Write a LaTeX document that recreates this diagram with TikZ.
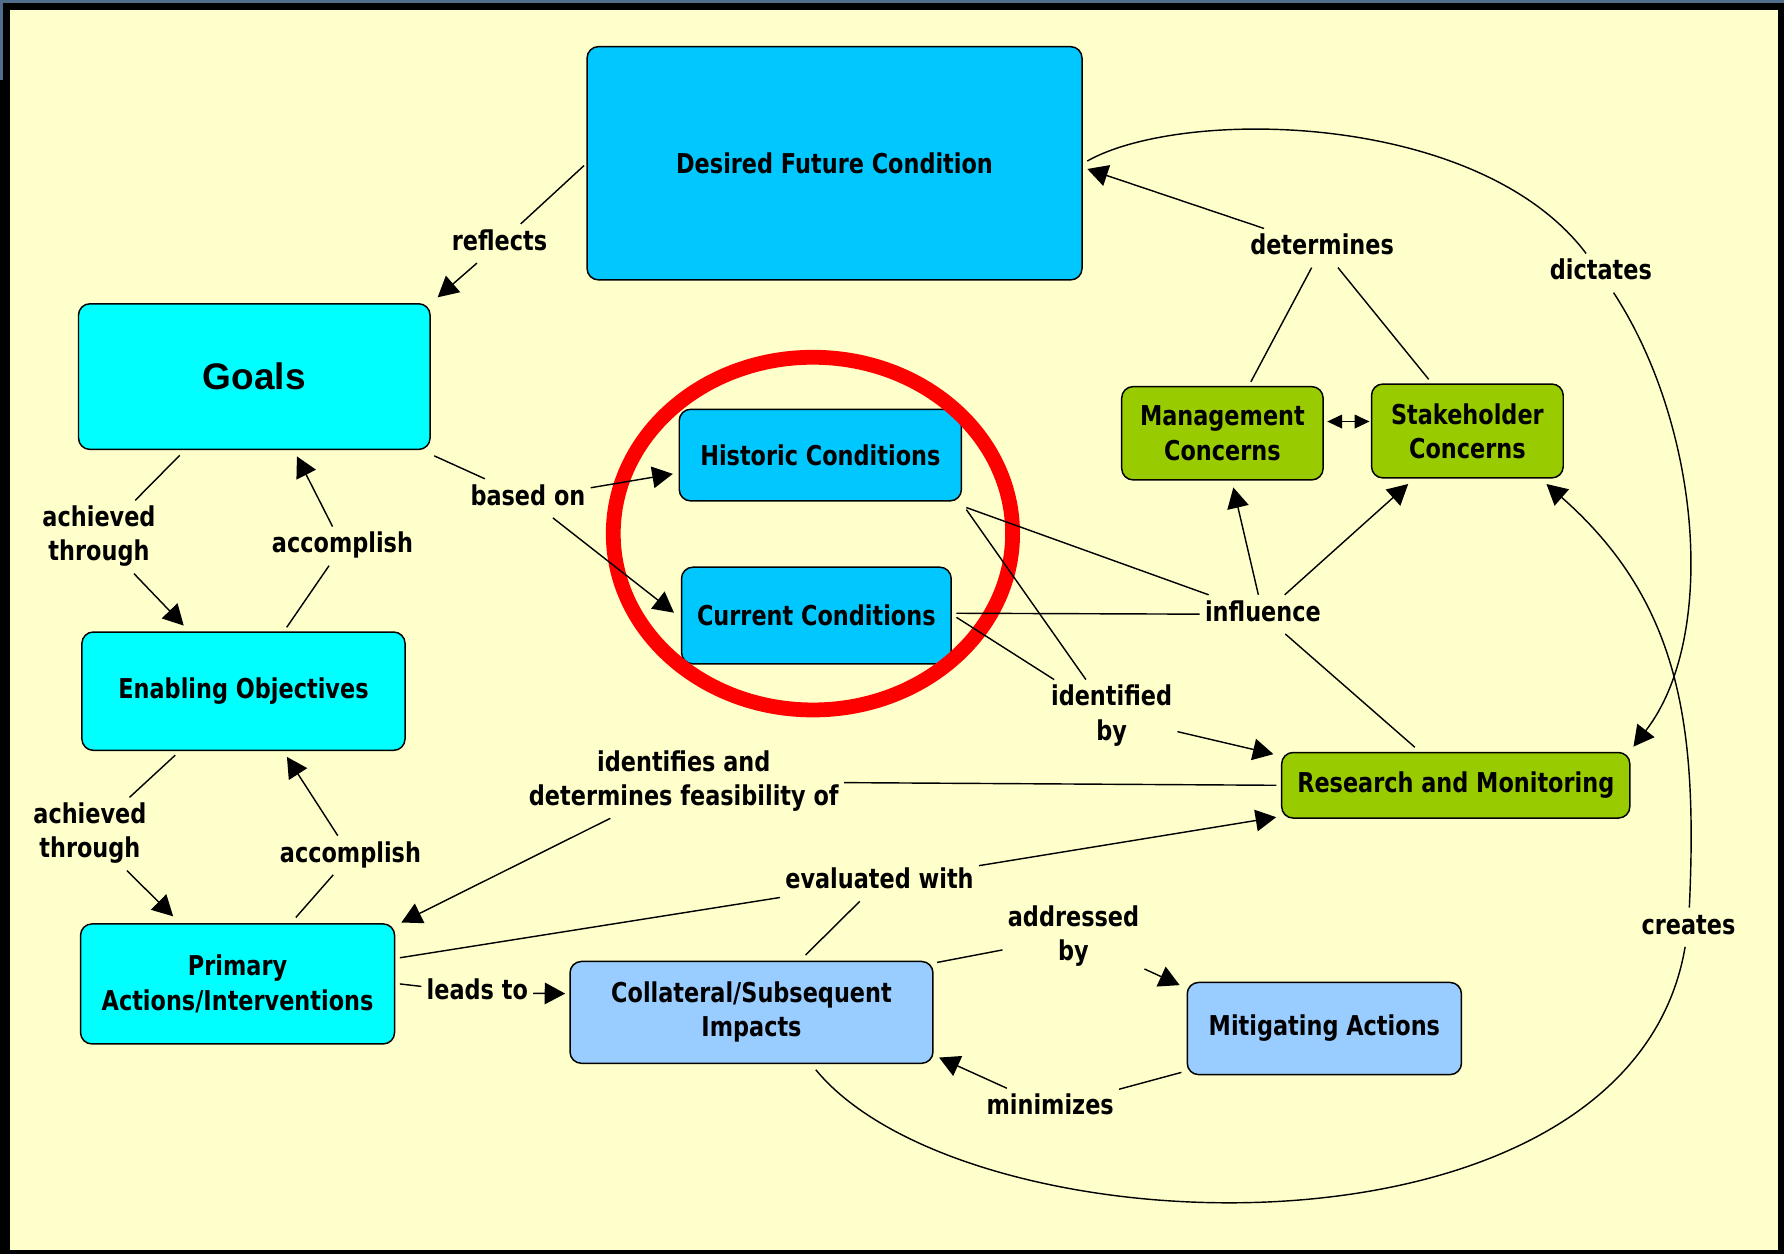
\documentclass[tikz,border=0pt]{standalone}
\usepackage{fontspec}
\usetikzlibrary{arrows.meta,calc}
\newfontfamily\cmfam{DejaVu Sans}[FakeStretch=0.82]
\newfontfamily\goalsfam{Liberation Sans}
\newcommand\cmf{\cmfam\bfseries\fontsize{24pt}{30pt}\selectfont}
\definecolor{bgy}{HTML}{FFFFCC}
\definecolor{topblue}{HTML}{506E8C}
\definecolor{skyb}{HTML}{00C8FF}
\definecolor{cyanb}{HTML}{00FFFF}
\definecolor{greenb}{HTML}{99CC00}
\definecolor{lblue}{HTML}{99CCFF}
\definecolor{ringred}{HTML}{FF0000}
\tikzset{
  box/.style={draw=black, line width=1.3pt, rounded corners=10pt, inner sep=0pt, align=center, font=\cmf},
  lbl/.style={font=\cmf, inner xsep=4.5pt, inner ysep=2pt, align=center},
  con/.style={line width=1.25pt, draw=black},
  arr/.style={con, -{Triangle[length=18pt,width=19pt]}},
  smalltip/.style={con, {Triangle[length=13pt,width=12pt]}-{Triangle[length=13pt,width=12pt]}},
}
\begin{document}
\begin{tikzpicture}[x=1pt,y=-1pt]
\useasboundingbox (0,0) rectangle (1568,1102);
\fill[black] (0,0) rectangle (1568,1102);
\fill[topblue] (0,0) rectangle (1568,2.5);
\fill[topblue] (0,0) rectangle (2.5,70);
\fill[bgy] (8.8,8.8) rectangle (1562.6,1098.6);

% concept boxes
\node[box, fill=skyb, minimum width=435pt, minimum height=205pt] (dfc) at (733.5,143.5) {Desired Future Condition};
\node[box, fill=cyanb, minimum width=309pt, minimum height=128pt, font=\goalsfam\bfseries\fontsize{32.5pt}{38pt}\selectfont] (goals) at (223.5,331) {Goals};
\node[box, fill=skyb, minimum width=248pt, minimum height=80.5pt] (hist) at (721,400) {Historic Conditions};
\node[box, fill=skyb, minimum width=237pt, minimum height=85pt] (curr) at (717.5,541) {Current Conditions};
\node[box, fill=cyanb, minimum width=284pt, minimum height=104pt] (eo) at (214,607.5) {Enabling Objectives};
\node[box, fill=cyanb, minimum width=276pt, minimum height=105.5pt] (prim) at (208.8,864.8) {Primary\\Actions/Interventions};
\node[box, fill=greenb, minimum width=177pt, minimum height=82pt] (mgmt) at (1074.4,380.8) {Management\\Concerns};
\node[box, fill=greenb, minimum width=168.5pt, minimum height=82.5pt] (stake) at (1289.7,378.8) {Stakeholder\\Concerns};
\node[box, fill=greenb, minimum width=306pt, minimum height=57.6pt] (rm) at (1279.5,690.2) {Research and Monitoring};
\node[box, fill=lblue, minimum width=319pt, minimum height=89.5pt] (coll) at (660.5,889.8) {Collateral/Subsequent\\Impacts};
\node[box, fill=lblue, minimum width=241pt, minimum height=81pt] (mit) at (1164,904) {Mitigating Actions};

% red ring
\draw[ringred, line width=13pt] (714.5,469) ellipse [x radius=175.5, y radius=155];

% linking phrases
\node[lbl] (rl) at (439,214) {reflects\strut};
\node[lbl] (ld) at (1162,218) {determines\strut};
\node[lbl] (lt) at (1407,240) {dictates\strut};
\node[lbl] (la1) at (87,472) {achieved\strut\\through\strut};
\node[lbl] (lac1) at (301,480) {accomplish\strut};
\node[lbl] (lb) at (464,438) {based on\strut};
\node[lbl] (li) at (1110,540) {influence\strut};
\node[lbl] (lid) at (977,629.5) {identified\strut\\by\strut};
\node[lbl] (lif) at (601,687) {identifies and\strut\\determines feasibility of\strut};
\node[lbl] (la2) at (79,733) {achieved\strut\\through\strut};
\node[lbl] (lac2) at (308,751.7) {accomplish\strut};
\node[lbl] (le) at (773,775) {evaluated with\strut};
\node[lbl] (lad) at (943.5,823) {addressed\strut\\by\strut};
\node[lbl] (llt) at (419.5,872.6) {leads to\strut};
\node[lbl] (lc) at (1484,815) {creates\strut};
\node[lbl] (lm) at (923,973.7) {minimizes\strut};

% connectors
\draw[con] ($(dfc.west)+(-2,2)$) -- (rl);
\draw[arr] (rl) -- ($(goals.north east)+(6,-5)$);

\draw[con] ($(mgmt.north)+(25,-3.5)$) -- (ld);
\draw[con] ($(stake.north)+(-34,-3.5)$) -- (ld);
\draw[arr] (ld) -- ($(dfc.east)+(4,5)$);

\draw[con] ($(dfc.east)+(4,-2)$) .. controls (1040,94) and (1300,98) .. (lt);
\draw[arr] (lt) .. controls (1495,375) and (1510,560) .. ($(rm.north east)+(2.5,-4.5)$);

\draw[con] ($(goals.south)+(-65.5,4.5)$) -- (la1);
\draw[arr] (la1) -- ($(eo.north)+(-52.5,-5)$);
\draw[con] ($(eo.north)+(38,-3.5)$) -- (lac1);
\draw[arr] (lac1) -- ($(goals.south)+(37.5,5.5)$);

\draw[con] ($(goals.south east)+(3,5)$) -- (lb);
\draw[arr] (lb) -- ($(hist.west)+(-5,16.5)$);
\draw[arr] (lb) -- ($(curr.west)+(-6,-2.5)$);

\draw[con] ($(hist.south east)+(3.7,5.2)$) -- (li);
\draw[con] ($(curr.east)+(4,-2)$) -- (li);
\draw[arr] (li) -- ($(mgmt.south)+(9.6,6)$);
\draw[arr] (li) -- ($(stake.south)+(-52,4.7)$);
\draw[con] (li) -- ($(rm.north)+(-36,-4)$);

\draw[con] ($(hist.south east)+(3.7,7)$) -- (lid);
\draw[con] ($(curr.east)+(4,1.6)$) -- (lid);
\draw[arr] (lid) -- ($(rm.north west)+(-6.6,2.1)$);

\draw[con] ($(rm.west)+(-4,0)$) -- (lif);
\draw[arr] (lif) -- ($(prim.north east)+(5.3,-0.6)$);

\draw[con] ($(prim.east)+(4,-23)$) -- (le);
\draw[con] ($(coll.north)+(47.5,-5)$) -- (le);
\draw[arr] (le) -- ($(rm.south west)+(-4.2,-1.4)$);

\draw[con] ($(prim.east)+(4,0)$) -- (llt);
\draw[arr] (llt) -- ($(coll.west)+(-3.6,-16.5)$);

\draw[con] ($(coll.north east)+(3,1.5)$) -- (lad);
\draw[arr] (lad) -- ($(mit.north west)+(-6,3)$);

\draw[con] ($(mit.south west)+(-4.5,-2.6)$) -- (lm);
\draw[arr] (lm) -- ($(coll.south east)+(4.7,-5.7)$);

\draw[con] ($(eo.south)+(-60,3.6)$) -- (la2);
\draw[arr] (la2) -- ($(prim.north)+(-56.6,-6)$);
\draw[con] ($(prim.north)+(51.2,-5)$) -- (lac2);
\draw[arr] (lac2) -- ($(eo.south)+(38.2,5.1)$);

\draw[smalltip] ($(mgmt.east)+(3,-10.3)$) -- ($(stake.west)+(-1.1,-8.3)$);

\draw[con] ($(coll.south)+(56.5,5)$) .. controls (850,1102) and (1432,1122) .. (lc);
\draw[arr] (lc) .. controls (1492,640) and (1478,530) .. ($(stake.south east)+(-15.4,4.7)$);
\end{tikzpicture}
\end{document}
